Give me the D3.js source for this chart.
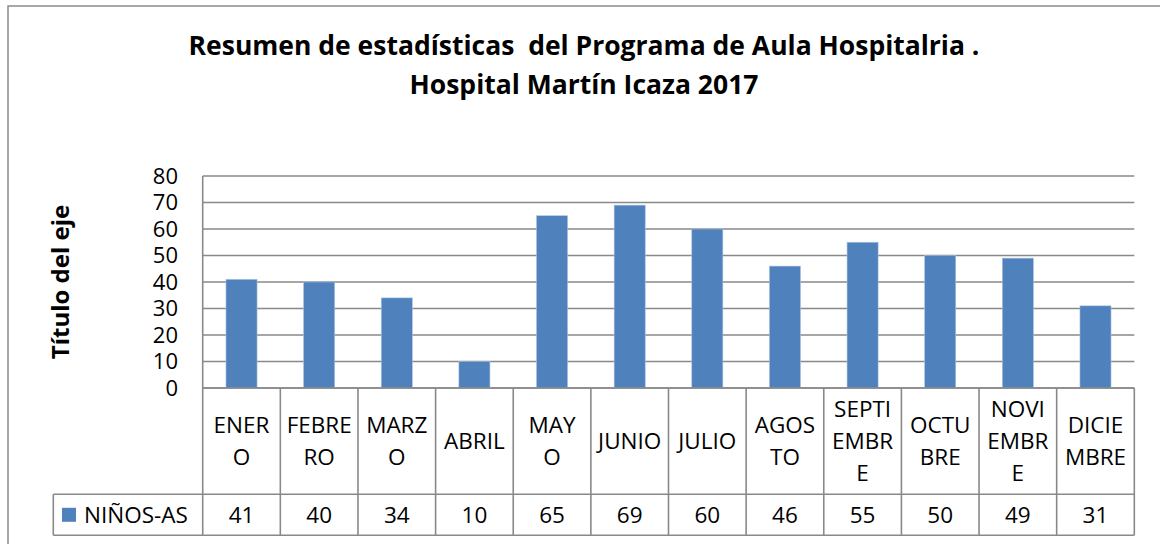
<!DOCTYPE html>
<html>
<head>
<meta charset="utf-8">
<script src="https://cdn.jsdelivr.net/npm/d3@7"></script>
<style>
    body { margin: 0; background: #fff; }
    svg { display: block; font-family: "Open Sans", "Noto Sans", sans-serif; }
    .title { white-space: pre; }
</style>
</head>
<body>
<div id="chart"></div>
<script>
// datos del gráfico
var months = ['ENERO', 'FEBRERO', 'MARZO', 'ABRIL', 'MAYO', 'JUNIO',
    'JULIO', 'AGOSTO', 'SEPTIEMBRE', 'OCTUBRE', 'NOVIEMBRE', 'DICIEMBRE'];
// como Excel parte las etiquetas dentro de la tabla
var monthLines = [
    ['ENER', 'O'], ['FEBRE', 'RO'], ['MARZ', 'O'], ['ABRIL'], ['MAY', 'O'], ['JUNIO'],
    ['JULIO'], ['AGOS', 'TO'], ['SEPTI', 'EMBR', 'E'], ['OCTU', 'BRE'], ['NOVI', 'EMBR', 'E'], ['DICIE', 'MBRE']
];
var ninos = [41, 40, 34, 10, 65, 69, 60, 46, 55, 50, 49, 31];
var yTicks = [0, 10, 20, 30, 40, 50, 60, 70, 80];
var seriesName = 'NIÑOS-AS';
var titleLines = ['Resumen de estadísticas  del Programa de Aula Hospitalria .', 'Hospital Martín Icaza 2017'];
var yTitle = 'Título del eje';

var W = 1160, H = 544;
var plot = { left: 202.7, right: 1134.3, top: 176, bottom: 388 };
var catRowBottom = 494.3, valRowBottom = 535.3, legendLeft = 53.3;
var blue = '#4f81bd', grid = '#898989';

var svg = d3.select('#chart').append('svg')
    .attr('width', W)
    .attr('height', H);

// borde exterior del gráfico
svg.append('rect')
    .attr('x', 8).attr('y', 6)
    .attr('width', W + 20).attr('height', H + 20)
    .attr('fill', '#fff')
    .attr('stroke', '#8c8c8c')
    .attr('stroke-width', 1.5);

var x = d3.scaleBand()
    .domain(months)
    .range([plot.left, plot.right])
    .paddingInner(0)
    .paddingOuter(0);

var xBar = d3.scaleBand()
    .domain(months)
    .range([plot.left, plot.right])
    .paddingInner(0.6)
    .paddingOuter(0.3);

var y = d3.scaleLinear()
    .domain([0, 80])
    .range([plot.bottom, plot.top]);

// líneas de la cuadrícula
svg.append('g')
    .selectAll('line')
    .data(yTicks)
    .enter().append('line')
    .attr('x1', plot.left).attr('x2', plot.right)
    .attr('y1', function(d) { return y(d); })
    .attr('y2', function(d) { return y(d); })
    .attr('stroke', grid)
    .attr('stroke-width', 1.6);

// eje vertical
svg.append('line')
    .attr('x1', plot.left).attr('x2', plot.left)
    .attr('y1', plot.top).attr('y2', plot.bottom)
    .attr('stroke', grid)
    .attr('stroke-width', 1.6);

// etiquetas del eje y
svg.append('g')
    .selectAll('text')
    .data(yTicks)
    .enter().append('text')
    .attr('x', 178)
    .attr('y', function(d) { return y(d); })
    .attr('dy', '0.35em')
    .attr('text-anchor', 'end')
    .style('font-size', '22px')
    .text(function(d) { return d; });

// barras
svg.append('g')
    .selectAll('rect')
    .data(ninos)
    .enter().append('rect')
    .attr('x', function(d, i) { return xBar(months[i]); })
    .attr('width', xBar.bandwidth())
    .attr('y', function(d) { return y(d); })
    .attr('height', function(d) { return y(0) - y(d); })
    .attr('fill', blue)
    .attr('stroke', '#a7c0de')
    .attr('stroke-width', 0.6);

// eje x encima de las barras
svg.append('line')
    .attr('x1', plot.left).attr('x2', plot.right)
    .attr('y1', plot.bottom).attr('y2', plot.bottom)
    .attr('stroke', grid)
    .attr('stroke-width', 1.6);

// tabla de datos
var table = svg.append('g');
var bounds = months.map(function(m) { return x(m); }).concat([plot.right]);

table.selectAll('line.v')
    .data(bounds)
    .enter().append('line')
    .attr('class', 'v')
    .attr('x1', function(d) { return d; })
    .attr('x2', function(d) { return d; })
    .attr('y1', plot.bottom).attr('y2', valRowBottom)
    .attr('stroke', grid)
    .attr('stroke-width', 1.6);

table.selectAll('line.h')
    .data([catRowBottom, valRowBottom])
    .enter().append('line')
    .attr('class', 'h')
    .attr('x1', legendLeft).attr('x2', plot.right)
    .attr('y1', function(d) { return d; })
    .attr('y2', function(d) { return d; })
    .attr('stroke', grid)
    .attr('stroke-width', 1.6);

table.append('line')
    .attr('x1', legendLeft).attr('x2', legendLeft)
    .attr('y1', catRowBottom).attr('y2', valRowBottom)
    .attr('stroke', grid)
    .attr('stroke-width', 1.6);

var catMid = (plot.bottom + catRowBottom) / 2;
var lineH = 32;

var cats = table.selectAll('text.cat')
    .data(months)
    .enter().append('text')
    .attr('class', 'cat')
    .attr('text-anchor', 'middle')
    .style('font-size', '22.5px');

cats.each(function(m, i) {
    var lines = monthLines[i];
    var start = catMid - (lines.length - 1) * lineH / 2;
    d3.select(this).selectAll('tspan')
        .data(lines)
        .enter().append('tspan')
        .attr('x', x(m) + x.bandwidth() / 2)
        .attr('y', function(d, j) { return start + j * lineH; })
        .attr('dy', '0.35em')
        .text(function(d) { return d; });
});

var valMid = (catRowBottom + valRowBottom) / 2;

table.selectAll('text.val')
    .data(ninos)
    .enter().append('text')
    .attr('class', 'val')
    .attr('x', function(d, i) { return x(months[i]) + x.bandwidth() / 2; })
    .attr('y', valMid)
    .attr('dy', '0.35em')
    .attr('text-anchor', 'middle')
    .style('font-size', '22.5px')
    .text(function(d) { return d; });

// leyenda en la tabla
table.append('rect')
    .attr('x', 62).attr('y', valMid - 7)
    .attr('width', 14).attr('height', 14)
    .attr('fill', blue);

table.append('text')
    .attr('x', 84)
    .attr('y', valMid)
    .attr('dy', '0.35em')
    .style('font-size', '22.5px')
    .text(seriesName);

// título
svg.append('g')
    .selectAll('text')
    .data(titleLines)
    .enter().append('text')
    .attr('class', 'title')
    .attr('x', 584)
    .attr('y', function(d, i) { return 55 + i * 39; })
    .attr('text-anchor', 'middle')
    .style('font-size', '26.5px')
    .style('font-weight', 'bold')
    .text(function(d) { return d; });

// título del eje y
svg.append('text')
    .attr('transform', 'translate(69,282) rotate(-90)')
    .attr('text-anchor', 'middle')
    .style('font-size', '24px')
    .style('font-weight', 'bold')
    .text(yTitle);
</script>
</body>
</html>
